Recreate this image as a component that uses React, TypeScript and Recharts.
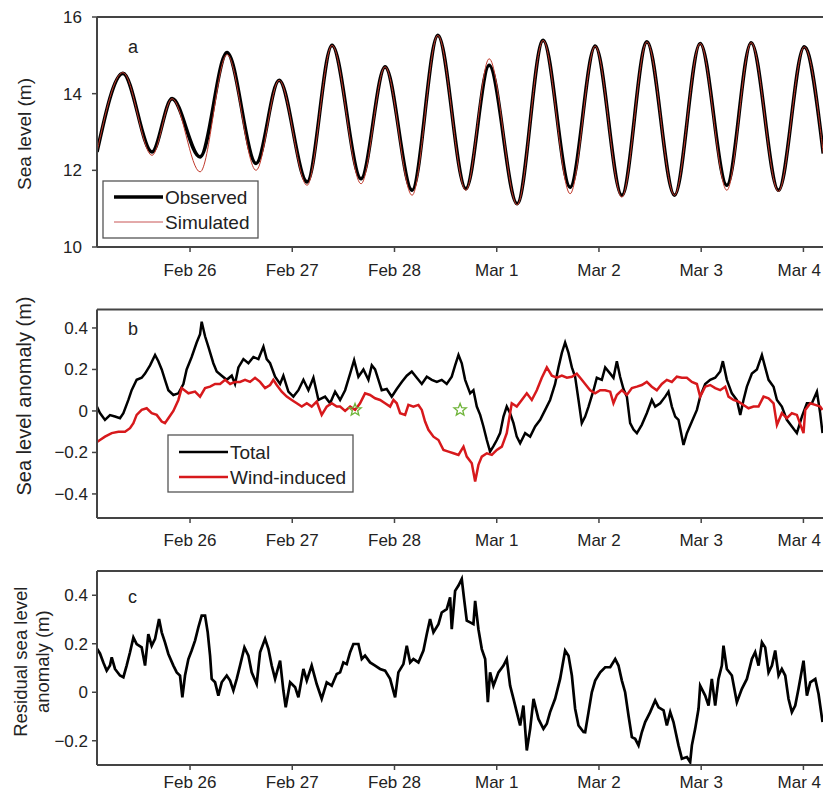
import { ComposedChart, Line, XAxis, YAxis, Scatter, ReferenceLine, Customized } from "recharts";

const FONT = "'Liberation Sans', Arial, sans-serif";

// x values are days since Feb 25 00:00
const dayTicks = [1, 2, 3, 4, 5, 6, 7];
const dayLabels = ["Feb 26", "Feb 27", "Feb 28", "Mar 1", "Mar 2", "Mar 3", "Mar 4"];

// panel a: tide highs / lows
const tideTime = [0.09, 0.344, 0.628, 0.824, 1.098, 1.362, 1.646, 1.871, 2.145, 2.389, 2.673, 2.908, 3.172, 3.424, 3.698, 3.926, 4.2, 4.454, 4.718, 4.963, 5.224, 5.469, 5.739, 5.99, 6.251, 6.489, 6.756, 7.008, 7.194];
const observed = [12.48, 14.53, 12.48, 13.87, 12.35, 15.07, 12.18, 14.35, 11.7, 15.26, 11.78, 14.7, 11.48, 15.52, 11.52, 14.74, 11.13, 15.39, 11.56, 15.24, 11.35, 15.35, 11.35, 15.31, 11.61, 15.33, 11.48, 15.22, 12.44];
const simulated = [12.48, 14.55, 12.39, 13.87, 11.96, 15.02, 12.0, 14.35, 11.61, 15.26, 11.65, 14.7, 11.35, 15.52, 11.48, 14.91, 11.1, 15.39, 11.39, 15.24, 11.3, 15.35, 11.35, 15.31, 11.48, 15.33, 11.45, 15.22, 12.44];
const levelTicks = [10, 12, 14, 16];

// panel b
const totalTime = [
  0.09, 0.119, 0.168, 0.217, 0.266, 0.315, 0.348, 0.397, 0.429, 0.478, 0.527, 0.56, 0.609, 0.658, 0.69, 0.723, 0.755, 0.788, 0.837, 0.886,
  0.935, 0.967, 1.016, 1.065, 1.098, 1.114, 1.147, 1.179, 1.228, 1.261, 1.31, 1.359, 1.408, 1.44, 1.473, 1.522, 1.571, 1.62, 1.669, 1.718,
  1.75, 1.783, 1.832, 1.881, 1.913, 1.962, 2.011, 2.06, 2.109, 2.158, 2.207, 2.256, 2.321, 2.37, 2.419, 2.468,
  2.517, 2.566, 2.605, 2.647, 2.696, 2.745, 2.778, 2.81, 2.843, 2.875, 2.924, 2.973, 3.022, 3.071, 3.12, 3.169, 3.218, 3.267, 3.316, 3.365,
  3.414, 3.462, 3.511, 3.56, 3.593, 3.626, 3.658, 3.691, 3.74, 3.772, 3.805, 3.838, 3.87, 3.903, 3.935, 3.968, 4.001, 4.033, 4.066, 4.098,
  4.131, 4.164, 4.196, 4.229, 4.278, 4.327, 4.376, 4.425, 4.474, 4.522, 4.571, 4.604, 4.637, 4.669, 4.702, 4.735, 4.767, 4.8, 4.832,
  4.865, 4.898, 4.947, 4.979, 5.028, 5.061, 5.11, 5.142, 5.175, 5.207, 5.24, 5.273, 5.305, 5.338, 5.371, 5.419, 5.468, 5.517, 5.55, 5.599,
  5.648, 5.68, 5.713, 5.746, 5.778, 5.827, 5.86, 5.909, 5.958, 5.99, 6.039, 6.088, 6.137, 6.186, 6.212, 6.251, 6.3, 6.349, 6.382, 6.414,
  6.447, 6.496, 6.545, 6.594, 6.626, 6.659, 6.708, 6.741, 6.789, 6.838, 6.887, 6.936, 6.985, 7.034, 7.083, 7.132, 7.164, 7.187,
];
const totalAnomaly = [
  0.02, -0.01, -0.043, -0.02, -0.027, -0.035, -0.011, 0.053, 0.1, 0.15, 0.16, 0.18, 0.22, 0.27, 0.24, 0.2, 0.15, 0.1, 0.077, 0.085,
  0.13, 0.2, 0.26, 0.33, 0.37, 0.43, 0.36, 0.31, 0.23, 0.19, 0.17, 0.15, 0.17, 0.13, 0.21, 0.25, 0.23, 0.26, 0.25, 0.31,
  0.25, 0.23, 0.165, 0.13, 0.17, 0.093, 0.069, 0.1, 0.15, 0.1, 0.16, 0.053, 0.069, 0.037, 0.093, 0.053,
  0.1, 0.18, 0.245, 0.165, 0.2, 0.15, 0.22, 0.2, 0.15, 0.1, 0.106, 0.069, 0.106, 0.14, 0.17, 0.19, 0.16, 0.13, 0.165, 0.15,
  0.14, 0.15, 0.13, 0.165, 0.22, 0.27, 0.23, 0.15, 0.085, 0.1, 0.021, -0.019, -0.075, -0.14, -0.196, -0.17, -0.14, -0.107, -0.027, 0.021,
  -0.011, -0.059, -0.124, -0.156, -0.107, -0.124, -0.075, -0.043, 0.005, 0.053, 0.13, 0.21, 0.28, 0.33, 0.28, 0.21, 0.165, 0.053, -0.059,
  -0.027, 0.021, 0.1, 0.16, 0.15, 0.21, 0.18, 0.16, 0.24, 0.165, 0.106, 0.069, -0.059, -0.09, -0.107, -0.067, -0.011, 0.053, 0.021, 0.037,
  0.069, 0.093, 0.021, -0.027, -0.043, -0.164, -0.107, -0.051, 0.005, 0.069, 0.13, 0.15, 0.16, 0.19, 0.24, 0.15, 0.085, 0.053, -0.019, 0.053,
  0.117, 0.18, 0.2, 0.27, 0.21, 0.15, 0.117, 0.053, 0.021, -0.043, -0.075, -0.107, -0.027, 0.037, 0.037, 0.093, -0.011, -0.107,
];
const windTime = [
  0.09, 0.119, 0.168, 0.234, 0.299, 0.364, 0.413, 0.446, 0.478, 0.527, 0.576, 0.625, 0.674, 0.723, 0.755, 0.788, 0.837, 0.886, 0.918, 0.984,
  1.049, 1.098, 1.147, 1.196, 1.245, 1.294, 1.343, 1.392, 1.44, 1.489, 1.538, 1.587, 1.636, 1.685, 1.734, 1.783, 1.815, 1.848, 1.897, 1.946,
  1.995, 2.044, 2.093, 2.142, 2.19, 2.239, 2.288, 2.337, 2.386, 2.435,
  2.468, 2.517, 2.566, 2.615, 2.663, 2.712, 2.761, 2.81, 2.859, 2.908, 2.957, 2.99, 3.022, 3.055, 3.104, 3.136, 3.185, 3.234, 3.267, 3.299,
  3.332, 3.381, 3.43, 3.479, 3.528, 3.577, 3.626, 3.675, 3.707, 3.756, 3.789, 3.821, 3.854, 3.903, 3.952, 4.001, 4.05, 4.098, 4.147, 4.196,
  4.245, 4.294, 4.343, 4.392, 4.441, 4.49, 4.539, 4.588, 4.637, 4.686, 4.735, 4.783, 4.832,
  4.865, 4.914, 4.963, 5.012, 5.061, 5.11, 5.142, 5.175, 5.224, 5.273, 5.322, 5.371, 5.419, 5.468, 5.517, 5.566, 5.615, 5.664, 5.713, 5.762,
  5.811, 5.86, 5.909, 5.958, 5.99, 6.039, 6.088, 6.137, 6.186, 6.235, 6.267, 6.316, 6.365, 6.414, 6.463, 6.512, 6.561, 6.61, 6.659, 6.708,
  6.741, 6.789, 6.838, 6.887, 6.936, 7.001, 7.018, 7.067, 7.116, 7.164, 7.187,
];
const windAnomaly = [
  -0.15, -0.14, -0.124, -0.107, -0.1, -0.1, -0.083, -0.059, -0.019, 0.005, 0.013, -0.011, -0.019, -0.051, -0.059, -0.035, 0.0, 0.053, 0.11, 0.085,
  0.093, 0.069, 0.11, 0.117, 0.13, 0.13, 0.15, 0.13, 0.14, 0.14, 0.15, 0.14, 0.16, 0.14, 0.11, 0.125, 0.15, 0.125, 0.093, 0.069,
  0.053, 0.037, 0.021, 0.037, 0.021, 0.045, -0.019, 0.021, 0.037, 0.021,
  0.021, 0.0, 0.021, 0.005, 0.037, 0.085, 0.077, 0.061, 0.053, 0.037, 0.021, 0.053, 0.037, -0.011, -0.019, 0.029, 0.021, 0.029, 0.005, -0.051,
  -0.091, -0.124, -0.14, -0.188, -0.196, -0.204, -0.212, -0.172, -0.22, -0.252, -0.34, -0.26, -0.22, -0.204, -0.212, -0.188, -0.172, -0.107, 0.037, 0.021,
  0.053, 0.085, 0.053, 0.1, 0.16, 0.21, 0.17, 0.16, 0.17, 0.16, 0.165, 0.18, 0.15,
  0.13, 0.1, 0.085, 0.1, 0.1, 0.093, 0.037, 0.077, 0.1, 0.077, 0.11, 0.117, 0.125, 0.14, 0.117, 0.1, 0.13, 0.15, 0.14, 0.165,
  0.16, 0.16, 0.14, 0.13, 0.069, 0.117, 0.125, 0.11, 0.1, 0.117, 0.069, 0.053, 0.045, 0.029, 0.013, 0.021, 0.021, 0.069, 0.061, 0.037,
  -0.067, -0.011, -0.035, -0.011, -0.019, -0.107, 0.005, 0.037, 0.029, 0.021, 0.005,
];
const starTime = [2.614, 3.642];
const starValue = [0.005, 0.005];
const anomalyTicks = [-0.4, -0.2, 0, 0.2, 0.4];

// panel c
const residualTime = [
  0.09, 0.119, 0.152, 0.185, 0.217, 0.234, 0.266, 0.315, 0.348, 0.38, 0.413, 0.446, 0.478, 0.527, 0.56, 0.592, 0.625, 0.658, 0.697, 0.723,
  0.755, 0.788, 0.837, 0.87, 0.902, 0.925, 0.951, 0.984, 1.016, 1.049, 1.081, 1.114, 1.147, 1.173, 1.196, 1.212, 1.245, 1.277, 1.31, 1.359,
  1.392, 1.424, 1.457, 1.489, 1.532, 1.571, 1.603, 1.652, 1.685, 1.734, 1.767, 1.799, 1.832, 1.881, 1.913, 1.936, 1.979, 2.028, 2.06, 2.109,
  2.142, 2.19, 2.239, 2.288, 2.337, 2.386, 2.435,
  2.468, 2.5, 2.533, 2.566, 2.598, 2.647, 2.68, 2.712, 2.761, 2.81, 2.859, 2.908, 2.957, 3.006, 3.038, 3.087, 3.12, 3.153, 3.185, 3.234,
  3.283, 3.316, 3.348, 3.381, 3.43, 3.462, 3.511, 3.544, 3.56, 3.593, 3.626, 3.658, 3.681, 3.707, 3.74, 3.772, 3.789, 3.821, 3.854, 3.887,
  3.913, 3.935, 3.968, 4.017, 4.066, 4.098, 4.131, 4.164, 4.196, 4.229, 4.261, 4.294, 4.327, 4.36, 4.408, 4.457, 4.49, 4.522, 4.571, 4.62,
  4.669, 4.702, 4.735, 4.767, 4.8, 4.849,
  4.865, 4.898, 4.93, 4.963, 5.012, 5.061, 5.11, 5.159, 5.191, 5.224, 5.256, 5.289, 5.322, 5.354, 5.387, 5.419, 5.452, 5.501, 5.55, 5.583,
  5.632, 5.664, 5.697, 5.729, 5.778, 5.811, 5.86, 5.892, 5.909, 5.941, 5.974, 5.99, 6.039, 6.072, 6.104, 6.137, 6.169, 6.202, 6.218, 6.251,
  6.3, 6.349, 6.398, 6.447, 6.496, 6.528, 6.561, 6.594, 6.626, 6.659, 6.692, 6.724, 6.757, 6.789, 6.822, 6.854, 6.887, 6.92, 6.952, 7.001,
  7.034, 7.067, 7.116, 7.148, 7.187,
];
const residual = [
  0.18, 0.16, 0.123, 0.089, 0.11, 0.144, 0.096, 0.069, 0.062, 0.11, 0.165, 0.226, 0.199, 0.185, 0.11, 0.24, 0.192, 0.22, 0.302, 0.247,
  0.206, 0.158, 0.11, 0.082, 0.069, -0.021, 0.069, 0.137, 0.172, 0.213, 0.267, 0.316, 0.316, 0.247, 0.151, 0.055, 0.041, -0.014, 0.041, 0.069,
  0.048, 0.007, 0.055, 0.11, 0.185, 0.151, 0.082, 0.034, 0.165, 0.22, 0.178, 0.11, 0.055, 0.13, 0.007, -0.062, 0.041, 0.021, -0.021, 0.096,
  0.048, 0.11, 0.034, -0.027, 0.041, 0.027, 0.075,
  0.082, 0.123, 0.116, 0.165, 0.199, 0.199, 0.137, 0.151, 0.123, 0.11, 0.096, 0.089, 0.055, -0.021, 0.082, 0.116, 0.192, 0.123, 0.137, 0.123,
  0.172, 0.24, 0.302, 0.247, 0.281, 0.329, 0.343, 0.391, 0.26, 0.418, 0.44, 0.467, 0.384, 0.295, 0.288, 0.281, 0.377, 0.26, 0.178, 0.137,
  -0.041, 0.082, 0.027, 0.082, 0.11, 0.137, 0.027, -0.027, -0.082, -0.137, -0.055, -0.24, -0.151, -0.027, -0.11, -0.151, -0.13, -0.082, -0.027, 0.055,
  0.172, 0.151, 0.069, -0.068, -0.137, -0.164,
  -0.165, -0.082, 0, 0.048, 0.082, 0.103, 0.103, 0.137, 0.11, 0.048, 0, -0.096, -0.185, -0.192, -0.219, -0.165, -0.123, -0.082, -0.034, -0.062,
  -0.075, -0.137, -0.082, -0.123, -0.219, -0.274, -0.267, -0.288, -0.219, -0.151, -0.068, 0.027, -0.014, -0.055, 0.055, -0.055, 0.055, 0.11, 0.192, 0.096,
  0.069, -0.041, 0.014, 0.055, 0.137, 0.165, 0.11, 0.206, 0.185, 0.082, 0.11, 0.172, 0.069, 0.096, 0.069, -0.027, -0.082, -0.055, 0.014, 0.13,
  -0.014, 0.041, 0.055, -0.007, -0.123,
];
const residualTicks = [-0.2, 0, 0.2, 0.4];

const rows = (ts: number[], vs: number[]) => ts.map((t, i) => ({ t, v: vs[i] }));
const tideRows = tideTime.map((t, i) => ({ t, obs: observed[i], sim: simulated[i] }));

const X_DOMAIN = [0.09, 7.26];
const AXIS = "#444";
const TEXT = "#222";
const VISIBLE_RIGHT = 821;

const fmtSigned = (v: number) => (v < 0 ? `\u2212${Math.abs(v)}` : `${v}`);
const fmtDay = (d: number) => dayLabels[dayTicks.indexOf(d)];

// date tick; the last one is pulled in so it stays inside the picture
const DayTick = (props: any) => {
  const { x, y, payload } = props;
  const label = fmtDay(payload.value);
  const half = label.length * 4.3;
  const atEdge = x + half > VISIBLE_RIGHT;
  return (
    <text x={atEdge ? VISIBLE_RIGHT : x} y={y} dy="0.71em" textAnchor={atEdge ? "end" : "middle"} fill={TEXT} fontSize={17} fontFamily={FONT}>
      {label}
    </text>
  );
};

const xAxisProps = (height: number, margin: number) => ({
  dataKey: "t",
  type: "number" as const,
  domain: X_DOMAIN,
  ticks: dayTicks,
  interval: 0 as const,
  allowDataOverflow: true,
  height,
  tickSize: 5,
  tickMargin: margin,
  axisLine: { stroke: AXIS, strokeWidth: 2 },
  tickLine: { stroke: AXIS, strokeWidth: 1.5 },
  tick: DayTick,
});

const yAxisProps = (domain: number[], ticks: number[], margin: number) => ({
  type: "number" as const,
  domain,
  ticks,
  interval: 0 as const,
  allowDataOverflow: true,
  width: 97,
  tickSize: 5,
  tickMargin: margin,
  tickFormatter: fmtSigned,
  axisLine: { stroke: AXIS, strokeWidth: 2 },
  tickLine: { stroke: AXIS, strokeWidth: 1.5 },
  tick: { fill: TEXT, fontSize: 17, fontFamily: FONT },
});

const Title = ({ lines, xs, y, size }: { lines: string[]; xs: number[]; y: number; size: number }) => (
  <g fontFamily={FONT} fontSize={size} fill={TEXT}>
    {lines.map((l, i) => (
      <text key={i} transform={`translate(${xs[i]},${y}) rotate(-90)`} textAnchor="middle">
        {l}
      </text>
    ))}
  </g>
);

const LegendBox = ({ x, y, w, h, items }: { x: number; y: number; w: number; h: number; items: { label: string; color: string; width: number; y: number }[] }) => (
  <g fontFamily={FONT} fontSize={19} fill={TEXT}>
    <rect x={x} y={y} width={w} height={h} fill="#fff" stroke="#555" strokeWidth={1.3} />
    {items.map((it) => (
      <g key={it.label}>
        <line x1={x + 11} x2={x + 60} y1={it.y} y2={it.y} stroke={it.color} strokeWidth={it.width} />
        <text x={x + 62} y={it.y + 7}>{it.label}</text>
      </g>
    ))}
  </g>
);

const Star = (props: any) => {
  const { cx, cy } = props;
  const pts: string[] = [];
  for (let i = 0; i < 10; i++) {
    const r = i % 2 === 0 ? 6.5 : 2.8;
    const a = -Math.PI / 2 + (i * Math.PI) / 5;
    pts.push(`${cx + r * Math.cos(a)},${cy + r * Math.sin(a)}`);
  }
  return <polygon points={pts.join(" ")} fill="none" stroke="#6fb43a" strokeWidth={1.3} />;
};

const PanelLetter = ({ x, y, s }: { x: number; y: number; s: string }) => (
  <text x={x} y={y} fontFamily={FONT} fontSize={18} fill={TEXT}>
    {s}
  </text>
);

export default function App() {
  return (
    <div style={{ position: "absolute", left: 0, top: 0, width: 823, height: 793, overflow: "hidden", background: "#fff" }}>
      <div style={{ position: "absolute", left: 0, top: 0 }}>
        <ComposedChart width={830} height={290} data={tideRows} margin={{ top: 17, right: 0, bottom: 8, left: 0 }}>
          <XAxis {...xAxisProps(35, 12)} />
          <YAxis {...yAxisProps([10, 16], levelTicks, 10)} />
          <ReferenceLine y={16} stroke={AXIS} strokeWidth={2} />
          <Line dataKey="obs" type="monotone" stroke="#000" strokeWidth={3.6} dot={false} isAnimationActive={false} />
          <Line dataKey="sim" type="monotone" stroke="#c0392b" strokeWidth={1} dot={false} isAnimationActive={false} />
          <Customized
            component={() => (
              <g>
                <Title lines={["Sea level (m)"]} xs={[31]} y={134} size={19} />
                <PanelLetter x={128} y={53} s="a" />
                <LegendBox
                  x={103}
                  y={181}
                  w={155}
                  h={57}
                  items={[
                    { label: "Observed", color: "#000", width: 3.6, y: 197 },
                    { label: "Simulated", color: "#c85555", width: 1, y: 222 },
                  ]}
                />
              </g>
            )}
          />
        </ComposedChart>
      </div>

      <div style={{ position: "absolute", left: 0, top: 290 }}>
        <ComposedChart width={830} height={260} margin={{ top: 19.5, right: 0, bottom: 2, left: 0 }}>
          <XAxis {...xAxisProps(30, 11)} />
          <YAxis {...yAxisProps([-0.516, 0.489], anomalyTicks, 4)} />
          <ReferenceLine y={0.489} stroke={AXIS} strokeWidth={2} />
          <Line data={rows(totalTime, totalAnomaly)} dataKey="v" type="linear" stroke="#000" strokeWidth={2.5} dot={false} isAnimationActive={false} />
          <Line data={rows(windTime, windAnomaly)} dataKey="v" type="linear" stroke="#d7191c" strokeWidth={2.5} dot={false} isAnimationActive={false} />
          <Scatter data={rows(starTime, starValue)} dataKey="v" shape={Star} isAnimationActive={false} />
          <Customized
            component={() => (
              <g>
                <Title lines={["Sea level anomaly (m)"]} xs={[31]} y={106} size={20} />
                <PanelLetter x={128} y={45} s="b" />
                <LegendBox
                  x={168}
                  y={145}
                  w={185}
                  h={57}
                  items={[
                    { label: "Total", color: "#000", width: 2.5, y: 162 },
                    { label: "Wind-induced", color: "#d7191c", width: 2.5, y: 187 },
                  ]}
                />
              </g>
            )}
          />
        </ComposedChart>
      </div>

      <div style={{ position: "absolute", left: 0, top: 550 }}>
        <ComposedChart width={830} height={243} margin={{ top: 21, right: 0, bottom: 2, left: 0 }}>
          <XAxis {...xAxisProps(26, 6)} />
          <YAxis {...yAxisProps([-0.3, 0.5], residualTicks, 4)} />
          <ReferenceLine y={0.5} stroke={AXIS} strokeWidth={2} />
          <Line data={rows(residualTime, residual)} dataKey="v" type="linear" stroke="#000" strokeWidth={2.7} dot={false} isAnimationActive={false} />
          <Customized
            component={() => (
              <g>
                <Title lines={["Residual sea level", "anomaly (m)"]} xs={[27, 49]} y={111.7} size={18.5} />
                <PanelLetter x={128} y={53} s="c" />
              </g>
            )}
          />
        </ComposedChart>
      </div>
    </div>
  );
}
